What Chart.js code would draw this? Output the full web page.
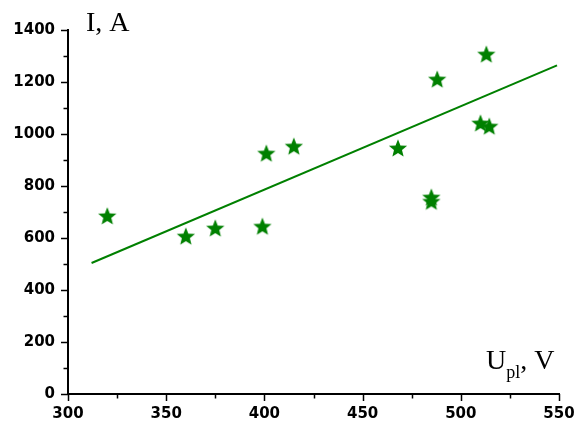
<!DOCTYPE html>
<html>
<head>
<meta charset="utf-8">
<script src="https://cdn.jsdelivr.net/npm/chart.js@4/dist/chart.umd.min.js"></script>
<style>
  html, body { margin: 0; padding: 0; background: #fff; }
  #wrap { width: 578px; height: 423px; }
</style>
</head>
<body>
<div id="wrap"><canvas id="c" width="578" height="423"></canvas></div>
<script>
// Measured plasma voltage (V) and current (A)
const voltage = [320, 360, 375, 399, 401, 415, 468, 485, 485, 488, 510, 514.5, 513];
const current = [685, 607, 638, 645, 926, 953, 946, 757, 741, 1211, 1042, 1030, 1307];

// Linear fit endpoints
const fitVoltage = [312, 549];
const fitCurrent = [504, 1264];

// Axis ticks
const xTicks = [300, 350, 400, 450, 500, 550];
const yTicks = [0, 200, 400, 600, 800, 1000, 1200, 1400];

const GREEN = '#008000';

// Filled five-point star marker
function makeStar(outer, inner, color) {
  const size = Math.ceil(outer * 2 + 2);
  const cv = document.createElement('canvas');
  cv.width = size; cv.height = size;
  const g = cv.getContext('2d');
  const cx = size / 2, cy = size / 2 + 0.8;
  g.beginPath();
  for (let i = 0; i < 10; i++) {
    const r = i % 2 === 0 ? outer : inner;
    const a = -Math.PI / 2 + i * Math.PI / 5;
    const px = cx + r * Math.cos(a), py = cy + r * Math.sin(a);
    if (i === 0) g.moveTo(px, py); else g.lineTo(px, py);
  }
  g.closePath();
  g.fillStyle = color;
  g.fill();
  return cv;
}
const starImg = makeStar(9.6, 4.2, GREEN);

// Outward major/minor tick marks on both axes
const tickMarks = {
  id: 'tickMarks',
  afterDraw(chart) {
    const { ctx, scales: { x, y } } = chart;
    ctx.save();
    ctx.strokeStyle = '#000';
    ctx.lineWidth = 1.5;
    const xStep = (xTicks[1] - xTicks[0]) / 2;
    for (let v = xTicks[0]; v <= xTicks[xTicks.length - 1] + 1e-6; v += xStep) {
      const major = xTicks.includes(v);
      const px = Math.round(x.getPixelForValue(v)) + 0.5;
      ctx.beginPath();
      ctx.moveTo(px, y.bottom);
      ctx.lineTo(px, y.bottom + (major ? 7 : 4.5));
      ctx.stroke();
    }
    const yStep = (yTicks[1] - yTicks[0]) / 2;
    for (let v = yTicks[0]; v <= yTicks[yTicks.length - 1] + 1e-6; v += yStep) {
      const major = yTicks.includes(v);
      const py = Math.round(y.getPixelForValue(v)) + 0.5;
      ctx.beginPath();
      ctx.moveTo(x.left, py);
      ctx.lineTo(x.left - (major ? 7 : 4.5), py);
      ctx.stroke();
    }
    ctx.restore();
  }
};

// Axis titles in serif type, the x title carries a subscript
const axisTitles = {
  id: 'axisTitles',
  afterDraw(chart) {
    const { ctx } = chart;
    ctx.save();
    ctx.fillStyle = '#000';
    ctx.textBaseline = 'alphabetic';
    ctx.textAlign = 'left';
    ctx.font = '28px "Liberation Serif", "Times New Roman", serif';
    ctx.fillText('I, A', 86, 31);

    let cx = 486;
    const base = 369;
    ctx.font = '28px "Liberation Serif", "Times New Roman", serif';
    ctx.fillText('U', cx, base);
    cx += ctx.measureText('U').width;
    ctx.font = '18px "Liberation Serif", "Times New Roman", serif';
    ctx.fillText('pl', cx, base + 9);
    cx += ctx.measureText('pl').width;
    ctx.font = '28px "Liberation Serif", "Times New Roman", serif';
    ctx.fillText(', V', cx, base);
    ctx.restore();
  }
};

const tickFont = { family: '"DejaVu Sans", "Liberation Sans", Arial, sans-serif', size: 15, weight: 'bold' };

new Chart(document.getElementById('c'), {
  type: 'scatter',
  data: {
    datasets: [
      {
        label: 'data',
        data: voltage.map((v, i) => ({ x: v, y: current[i] })),
        pointStyle: starImg,
        pointRadius: 9,
        pointHoverRadius: 9,
        showLine: false
      },
      {
        label: 'fit',
        type: 'line',
        data: fitVoltage.map((v, i) => ({ x: v, y: fitCurrent[i] })),
        borderColor: GREEN,
        borderWidth: 2,
        pointRadius: 0,
        fill: false
      }
    ]
  },
  options: {
    responsive: false,
    animation: false,
    devicePixelRatio: 1,
    layout: { padding: { left: 0, top: 30, right: 19, bottom: 0 } },
    plugins: { legend: { display: false }, tooltip: { enabled: false } },
    scales: {
      x: {
        type: 'linear',
        min: 300, max: 550,
        afterBuildTicks: s => { s.ticks = xTicks.map(v => ({ value: v })); },
        afterFit: s => { s.height = 29; s.paddingRight = 0; s.paddingLeft = 0; },
        grid: { display: false, drawTicks: false },
        border: { display: true, color: '#000', width: 2 },
        ticks: { color: '#000', font: tickFont, padding: 11, maxRotation: 0, autoSkip: false,
                 callback: v => String(v) }
      },
      y: {
        type: 'linear',
        min: 0, max: 1400,
        afterBuildTicks: s => { s.ticks = yTicks.map(v => ({ value: v })); },
        afterFit: s => { s.width = 68; s.paddingTop = 0; s.paddingBottom = 0; },
        grid: { display: false, drawTicks: false },
        border: { display: true, color: '#000', width: 2 },
        ticks: { color: '#000', font: tickFont, padding: 13, autoSkip: false,
                 callback: v => String(v) }
      }
    }
  },
  plugins: [tickMarks, axisTitles]
});
</script>
</body>
</html>
